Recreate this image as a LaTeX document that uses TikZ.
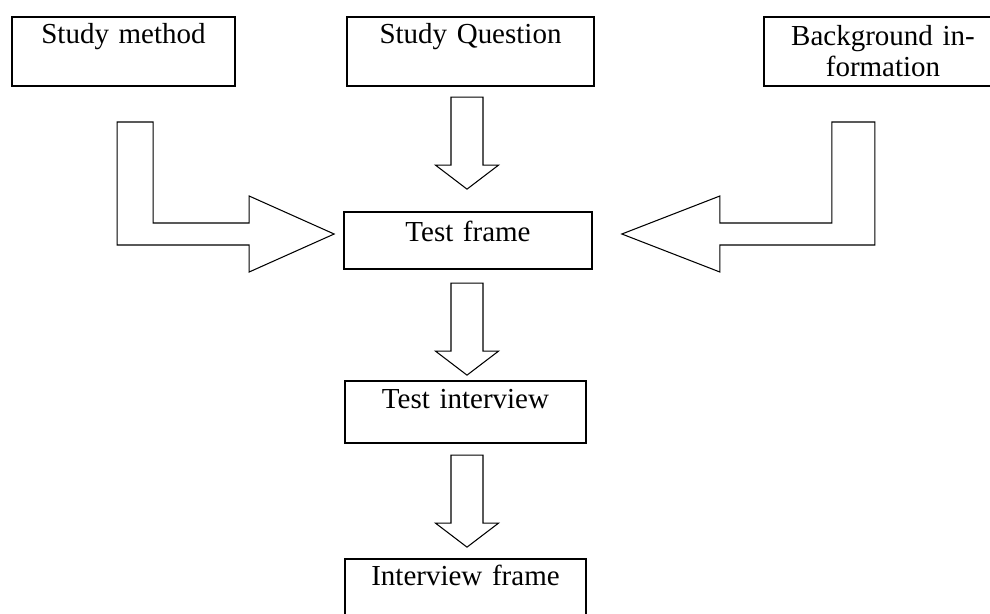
\documentclass[tikz,border=0pt]{standalone}
\usepackage{fontspec}
\setmainfont{Liberation Serif}
\usetikzlibrary{calc}
\tikzstyle{tbox}   = [draw, line width=1pt, inner sep=0pt, align=center,
    font=\fontsize{16.5}{18.2}\selectfont]
\tikzstyle{barrow} = [draw, line width=0.6pt, line join=miter, fill=white]
\tikzset{downarr/.pic={
    \draw[barrow] (0,0) -- (31.5,-24) -- (16,-24) -- (16,-92) -- (-16,-92) -- (-16,-24) -- (-31.5,-24) -- cycle;}}

\begin{document}
\begin{tikzpicture}[x=0.02cm,y=-0.02cm]
                    \useasboundingbox (0,0) rectangle (990,613);
                    \node at (123.5,51.5) [tbox,text width=4.46cm,text height=0.52cm,text depth=0.86cm] (nSM) {Study method};
                    \node at (470.5,51.5) [tbox,text width=4.94cm,text height=0.52cm,text depth=0.86cm] (nSQ) {Study Question};
                    \node at (883,51.5)   [tbox,text width=4.76cm,text height=0.56cm,text depth=0.82cm] (nBI) {Background in-\\formation};
                    \node at (468,240.5)  [tbox,text width=4.96cm,text height=0.58cm,text depth=0.56cm] (nTF) {Test frame};
                    \node at (465.5,412)  [tbox,text width=4.82cm,text height=0.54cm,text depth=0.70cm] (nTI) {Test interview};
                    \node at (465.5,590)  [tbox,text width=4.82cm,text height=0.52cm,text depth=0.72cm] (nIF) {Interview frame};
                    % block arrows
                    \coordinate (tipL) at ($(nTF.west)+(-9,-6.5)$);
                    \coordinate (tipR) at ($(nTF.east)+(29,-6.5)$);
                    \draw[barrow] (tipL) -- ++(-85,-38) -- ++(0,27) -- ++(-96,0) -- ++(0,-101) -- ++(-36,0) -- ++(0,123) -- ++(132,0) -- ++(0,27) -- cycle;
                    \draw[barrow] (tipR) -- ++(98,-38) -- ++(0,27) -- ++(112,0) -- ++(0,-101) -- ++(43,0) -- ++(0,123) -- ++(-155,0) -- ++(0,27) -- cycle;
                    \pic at ($(nTF.north)+(-1,-22)$) {downarr};
                    \pic at ($(nTI.north)+(1.5,-5)$) {downarr};
                    \pic at ($(nIF.north)+(1.5,-11)$) {downarr};
                \end{tikzpicture}
\end{document}
